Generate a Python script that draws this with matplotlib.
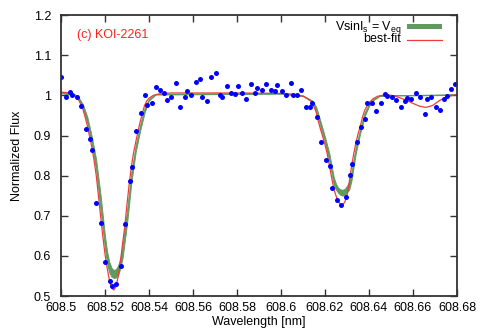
import matplotlib
matplotlib.use("Agg")
import matplotlib.pyplot as plt
from matplotlib.ticker import FormatStrFormatter, FuncFormatter

plt.rcParams["font.family"] = ["Liberation Sans", "DejaVu Sans"]
plt.rcParams["mathtext.fontset"] = "custom"
plt.rcParams["mathtext.rm"] = "Liberation Sans"
plt.rcParams["mathtext.it"] = "Liberation Sans"

# observed spectrum
obs_wl = [
    608.5000, 608.5021, 608.5042, 608.5052, 608.5071, 608.5091, 608.5112, 608.5132,
    608.5142, 608.5160, 608.5182, 608.5201, 608.5221, 608.5232, 608.5251, 608.5273,
    608.5291, 608.5312, 608.5323, 608.5342, 608.5362, 608.5381, 608.5392, 608.5412,
    608.5431, 608.5451, 608.5470, 608.5482, 608.5501, 608.5522, 608.5542, 608.5563,
    608.5572, 608.5592, 608.5612, 608.5633, 608.5642, 608.5662, 608.5682, 608.5703,
    608.5723, 608.5733, 608.5753, 608.5773, 608.5792, 608.5803, 608.5823, 608.5842,
    608.5862, 608.5883, 608.5892, 608.5912, 608.5933, 608.5953, 608.5973, 608.5982,
    608.6003, 608.6023, 608.6044, 608.6053, 608.6073, 608.6093, 608.6113, 608.6132,
    608.6142, 608.6163, 608.6183, 608.6203, 608.6223, 608.6233, 608.6253, 608.6273,
    608.6294, 608.6314, 608.6324, 608.6345, 608.6363, 608.6383, 608.6393, 608.6414,
    608.6433, 608.6453, 608.6473, 608.6483, 608.6503, 608.6524, 608.6544, 608.6563,
    608.6573, 608.6593, 608.6614, 608.6633, 608.6653, 608.6664, 608.6683, 608.6704,
    608.6723, 608.6743, 608.6753, 608.6773, 608.6792,
]
obs_flux = [
    1.045, 0.996, 1.008, 1.001, 0.995, 0.974, 0.915, 0.892,
    0.865, 0.731, 0.683, 0.585, 0.537, 0.526, 0.531, 0.575,
    0.679, 0.786, 0.821, 0.911, 0.955, 1.001, 0.975, 0.982,
    1.021, 1.014, 1.007, 0.989, 0.996, 1.031, 0.972, 0.995,
    1.011, 1.001, 1.033, 1.040, 0.996, 0.986, 1.046, 1.055,
    1.001, 0.996, 1.024, 1.006, 1.003, 1.024, 1.006, 0.991,
    1.028, 1.006, 1.019, 1.014, 1.028, 1.013, 1.012, 1.026,
    1.011, 1.002, 1.030, 1.000, 1.000, 1.013, 0.972, 0.972,
    0.981, 0.947, 0.884, 0.840, 0.824, 0.768, 0.740, 0.727,
    0.747, 0.801, 0.828, 0.883, 0.920, 0.942, 0.982, 0.982,
    0.962, 0.982, 1.004, 0.999, 0.996, 0.989, 0.971, 0.987,
    0.994, 0.990, 1.006, 0.996, 0.954, 0.990, 0.995, 0.972,
    0.963, 0.990, 0.999, 1.017, 1.029,
]

# best-fit model
fit_wl = [
    608.500, 608.503, 608.505, 608.506, 608.507, 608.508, 608.509, 608.510,
    608.511, 608.512, 608.513, 608.514, 608.515, 608.516, 608.517, 608.518,
    608.519, 608.520, 608.521, 608.522, 608.523, 608.524, 608.525, 608.526,
    608.527, 608.528, 608.529, 608.530, 608.531, 608.532, 608.533, 608.534,
    608.535, 608.536, 608.537, 608.538, 608.539, 608.540, 608.542, 608.545,
    608.550, 608.560, 608.580, 608.600, 608.605, 608.608, 608.610, 608.612,
    608.613, 608.614, 608.615, 608.616, 608.617, 608.618, 608.619, 608.620,
    608.621, 608.622, 608.623, 608.624, 608.625, 608.626, 608.627, 608.628,
    608.629, 608.630, 608.631, 608.632, 608.633, 608.634, 608.635, 608.636,
    608.637, 608.638, 608.639, 608.640, 608.641, 608.642, 608.644, 608.648,
    608.652, 608.656, 608.660, 608.663, 608.666, 608.669, 608.672, 608.675,
    608.678, 608.680,
]
fit_flux = [
    1.008, 1.007, 1.004, 1.001, 0.995, 0.989, 0.978, 0.965,
    0.946, 0.924, 0.898, 0.872, 0.840, 0.802, 0.752, 0.700,
    0.650, 0.605, 0.570, 0.540, 0.520, 0.515, 0.523, 0.548,
    0.585, 0.630, 0.673, 0.728, 0.778, 0.822, 0.857, 0.884,
    0.910, 0.934, 0.955, 0.975, 0.986, 0.993, 1.000, 1.004,
    1.006, 1.006, 1.006, 1.005, 1.003, 1.000, 0.998, 0.992,
    0.988, 0.984, 0.972, 0.958, 0.935, 0.915, 0.897, 0.878,
    0.855, 0.826, 0.796, 0.768, 0.750, 0.736, 0.729, 0.727,
    0.734, 0.750, 0.782, 0.820, 0.852, 0.880, 0.903, 0.922,
    0.945, 0.962, 0.972, 0.981, 0.987, 0.992, 0.998, 1.002,
    0.998, 0.990, 0.980, 0.973, 0.970, 0.975, 0.987, 0.995,
    1.000, 1.002,
]

# Vsin(Is) = Veq model band
band_wl = [
    608.500, 608.506, 608.508, 608.510, 608.512, 608.514, 608.516, 608.518,
    608.520, 608.521, 608.522, 608.523, 608.524, 608.525, 608.526, 608.527,
    608.528, 608.530, 608.532, 608.534, 608.536, 608.538, 608.540, 608.543,
    608.600, 608.610, 608.614, 608.616, 608.618, 608.620, 608.622, 608.624,
    608.625, 608.626, 608.627, 608.628, 608.629, 608.630, 608.631, 608.632,
    608.634, 608.636, 608.638, 608.640, 608.642, 608.645, 608.680,
]
band_lo = [
    1.006, 1.000, 0.991, 0.969, 0.931, 0.880, 0.814, 0.715,
    0.618, 0.580, 0.558, 0.548, 0.545, 0.546, 0.552, 0.570,
    0.595, 0.678, 0.783, 0.860, 0.912, 0.957, 0.987, 1.002,
    1.004, 0.998, 0.985, 0.963, 0.921, 0.884, 0.835, 0.777,
    0.765, 0.757, 0.752, 0.750, 0.752, 0.758, 0.765, 0.786,
    0.855, 0.905, 0.947, 0.973, 0.988, 0.999, 1.001,
]
band_hi = [
    1.009, 1.004, 0.995, 0.978, 0.946, 0.898, 0.840, 0.752,
    0.650, 0.610, 0.585, 0.570, 0.565, 0.567, 0.577, 0.595,
    0.625, 0.712, 0.810, 0.877, 0.927, 0.969, 0.991, 1.004,
    1.006, 1.000, 0.988, 0.972, 0.935, 0.897, 0.855, 0.796,
    0.780, 0.770, 0.766, 0.765, 0.767, 0.775, 0.785, 0.808,
    0.872, 0.917, 0.957, 0.979, 0.991, 1.000, 1.003,
]

GREEN = "#5f9a5f"
RED = "#f03c3c"

fig = plt.figure(figsize=(4.8, 3.36), dpi=100)
ax = fig.add_axes([0.127, 0.119, 0.825, 0.836])

ax.fill_between(band_wl, band_lo, band_hi, color=GREEN, lw=0.6, edgecolor=GREEN)
ax.plot(fit_wl, fit_flux, color=RED, lw=0.9)
ax.plot(obs_wl, obs_flux, "o", color="#0000ff", ms=3.6, mec="none")

ax.set_xlim(608.5, 608.68)
ax.set_ylim(0.5, 1.2)
ax.set_xticks([608.5 + 0.02 * i for i in range(10)])
ax.set_yticks([0.5 + 0.1 * i for i in range(8)])
ax.xaxis.set_major_formatter(FuncFormatter(lambda v, p: f"{v:.2f}".rstrip("0").rstrip(".")))
ax.yaxis.set_major_formatter(FuncFormatter(lambda v, p: f"{v:.1f}".rstrip("0").rstrip(".")))
ax.tick_params(direction="in", length=5, width=1, top=True, right=True,
               labelsize=9, color="#333333", pad=4)
ax.tick_params(axis="y", pad=7)
for s in ax.spines.values():
    s.set_linewidth(1.3)
    s.set_color("#333333")

ax.set_xlabel("Wavelength [nm]", fontsize=9, labelpad=2)
ax.set_ylabel("Normalized Flux", fontsize=9, labelpad=8)

ax.text(608.5073, 1.150, "(c) KOI-2261", color="#ff2020", fontsize=9, va="center")

# legend drawn gnuplot-style: text right-aligned, sample on the right
ax.text(0.859, 0.957, r"VsinI$_{\rm s}$ = V$_{\rm eq}$", transform=ax.transAxes,
        ha="right", va="center", fontsize=9)
ax.text(0.859, 0.915, "best-fit", transform=ax.transAxes, ha="right", va="center",
        fontsize=9)
ax.add_patch(plt.Rectangle((0.875, 0.951), 0.086, 0.016, transform=ax.transAxes,
                           color=GREEN, lw=0))
ax.plot([0.875, 0.961], [0.911, 0.911], transform=ax.transAxes, color=RED, lw=0.9)

fig.savefig("out.png", dpi=100)
